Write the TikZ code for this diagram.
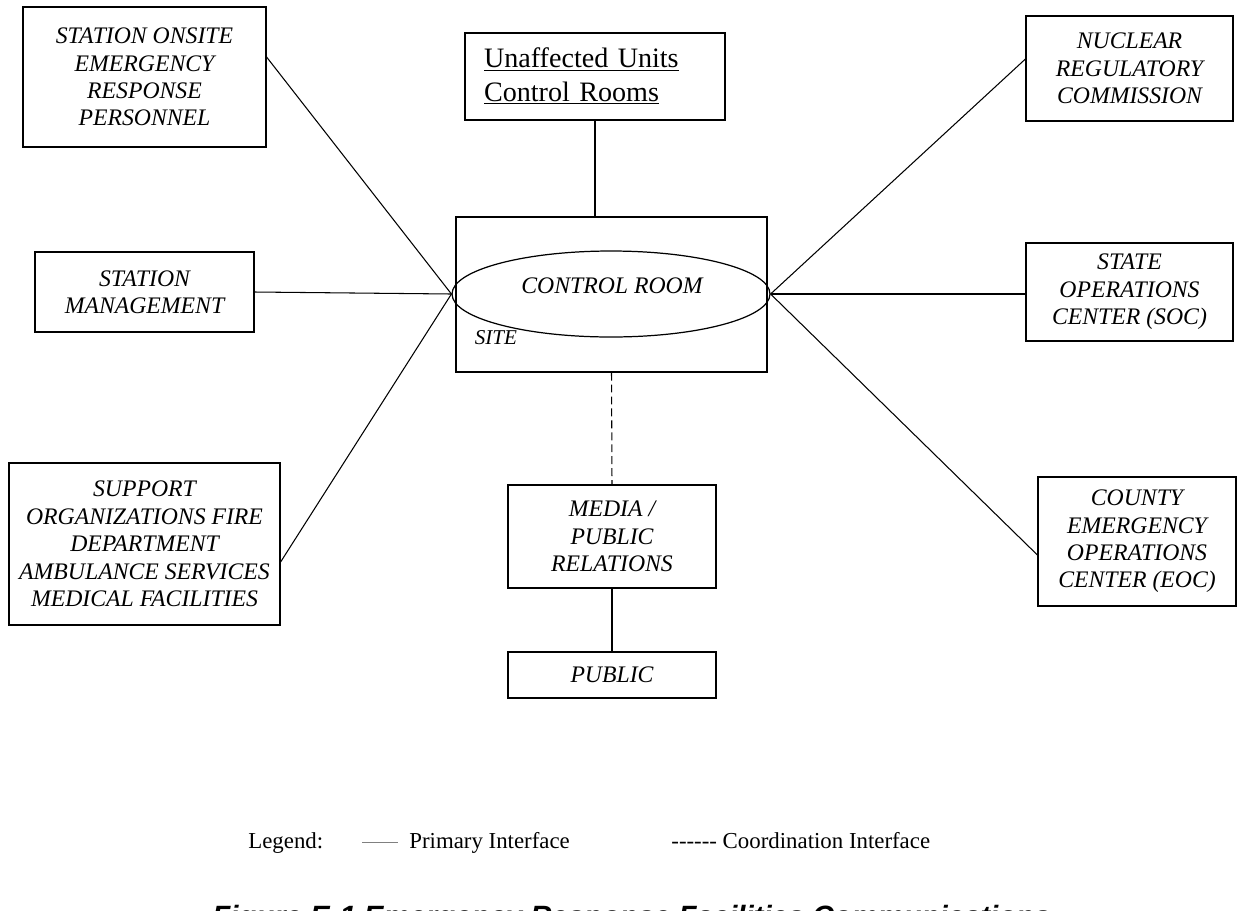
\documentclass[tikz,border=0pt]{standalone}
\usepackage{fontspec}
\setmainfont{Liberation Serif}
\newfontfamily\figcapfont{Liberation Sans}
\usetikzlibrary{shapes.geometric, positioning, calc}
\newcommand\hy{\mbox{-}}

\begin{document}
\begin{tikzpicture}[x=0.02cm,y=-0.02cm,-,line width=0.6pt,
                    box node/.style={rectangle,draw,line width=0.7pt,align=center,inner sep=1pt,font=\fontsize{13.5}{15.6}\selectfont\itshape},
                    legend text/.style={anchor=base west,font=\fontsize{13}{15}\selectfont},
                    coord line/.style={dash pattern=on 4.5pt off 2.3pt}]

  \useasboundingbox (0,0) rectangle (1239,910);

  % site with control room
  \node[draw,line width=0.7pt,minimum width=6.22cm,minimum height=3.1cm] (site) at (611.5,294.5) {};
  \node[ellipse,draw,line width=0.7pt,minimum width=6.36cm,minimum height=1.72cm,inner sep=0pt] (ctrl) at (611,294) {};
  \node[font=\fontsize{13.5}{15.6}\selectfont\itshape] (ctrl text) at (612,286) {CONTROL ROOM};
  \node[font=\fontsize{12}{14}\selectfont\itshape] (site text) at (496,338) {SITE};

  % left side
  \node[box node,minimum width=4.86cm,minimum height=2.8cm] (onsite) at (144.5,77) {STATION ONSITE\\EMERGENCY\\RESPONSE\\PERSONNEL};
  \node[box node,minimum width=4.38cm,minimum height=1.6cm] (mgmt) at (144.5,292) {STATION\\MANAGEMENT};
  \node[box node,minimum width=5.42cm,minimum height=3.24cm] (support) at (144.5,544) {SUPPORT\\ORGANIZATIONS FIRE\\DEPARTMENT\\AMBULANCE SERVICES\\MEDICAL FACILITIES};

  % top and bottom
  \node[draw,line width=0.7pt,minimum width=5.2cm,minimum height=1.74cm,text width=4.44cm,inner xsep=0.38cm,align=left,
        font=\fontsize{16}{18.8}\selectfont] (unaff) at (595,76.5) {\underline{Unaffected Units}\\\underline{Control Rooms}};
  \node[box node,minimum width=4.16cm,minimum height=2.06cm] (media) at (612,536.5) {MEDIA /\\PUBLIC\\RELATIONS};
  \node[box node,minimum width=4.16cm,minimum height=0.92cm] (public) at (612,675) {PUBLIC};

  % right side
  \node[box node,minimum width=4.14cm,minimum height=2.1cm] (nrc) at (1129.5,68.5) {NUCLEAR\\REGULATORY\\COMMISSION};
  \node[box node,minimum width=4.14cm,minimum height=1.96cm] (soc) at (1129.5,292) {STATE\\OPERATIONS\\CENTER (SOC)};
  \node[box node,minimum width=3.96cm,minimum height=2.58cm] (eoc) at (1137,541.5) {COUNTY\\EMERGENCY\\OPERATIONS\\CENTER (EOC)};

  \path
    ([yshift=0.4cm]onsite.east) edge (ctrl.west)
    (mgmt.east) edge (ctrl.west)
    ([yshift=-0.36cm]support.east) edge (ctrl.west)
    ([yshift=0.19cm]nrc.west) edge (ctrl.east)
    (ctrl.east) edge (ctrl.east -| soc.west)
    ([yshift=-0.27cm]eoc.west) edge (ctrl.east)
    (unaff.south) edge (unaff.south |- site.north)
    (media.south) edge (public.north);

  \path[coord line]
    (site.south) edge (media.north);

  % legend
  \node[legend text] (legend) at (242,848) {Legend:};
  \coordinate (prim a) at (362,842);
  \coordinate (prim b) at (398,842);
  \draw[gray,line width=0.5pt] (prim a) -- (prim b);
  \node[legend text] (prim) at (403,848) {Primary Interface};
  \node[legend text] (coord) at (665,848) {\hy\hy\hy\hy\hy\hy{} Coordination Interface};

  \node[anchor=base west,font=\figcapfont\fontsize{16.7}{20}\selectfont\bfseries\itshape] (caption) at (206,926) {Figure E-1 Emergency Response Facilities Communications};

\end{tikzpicture}
\end{document}
